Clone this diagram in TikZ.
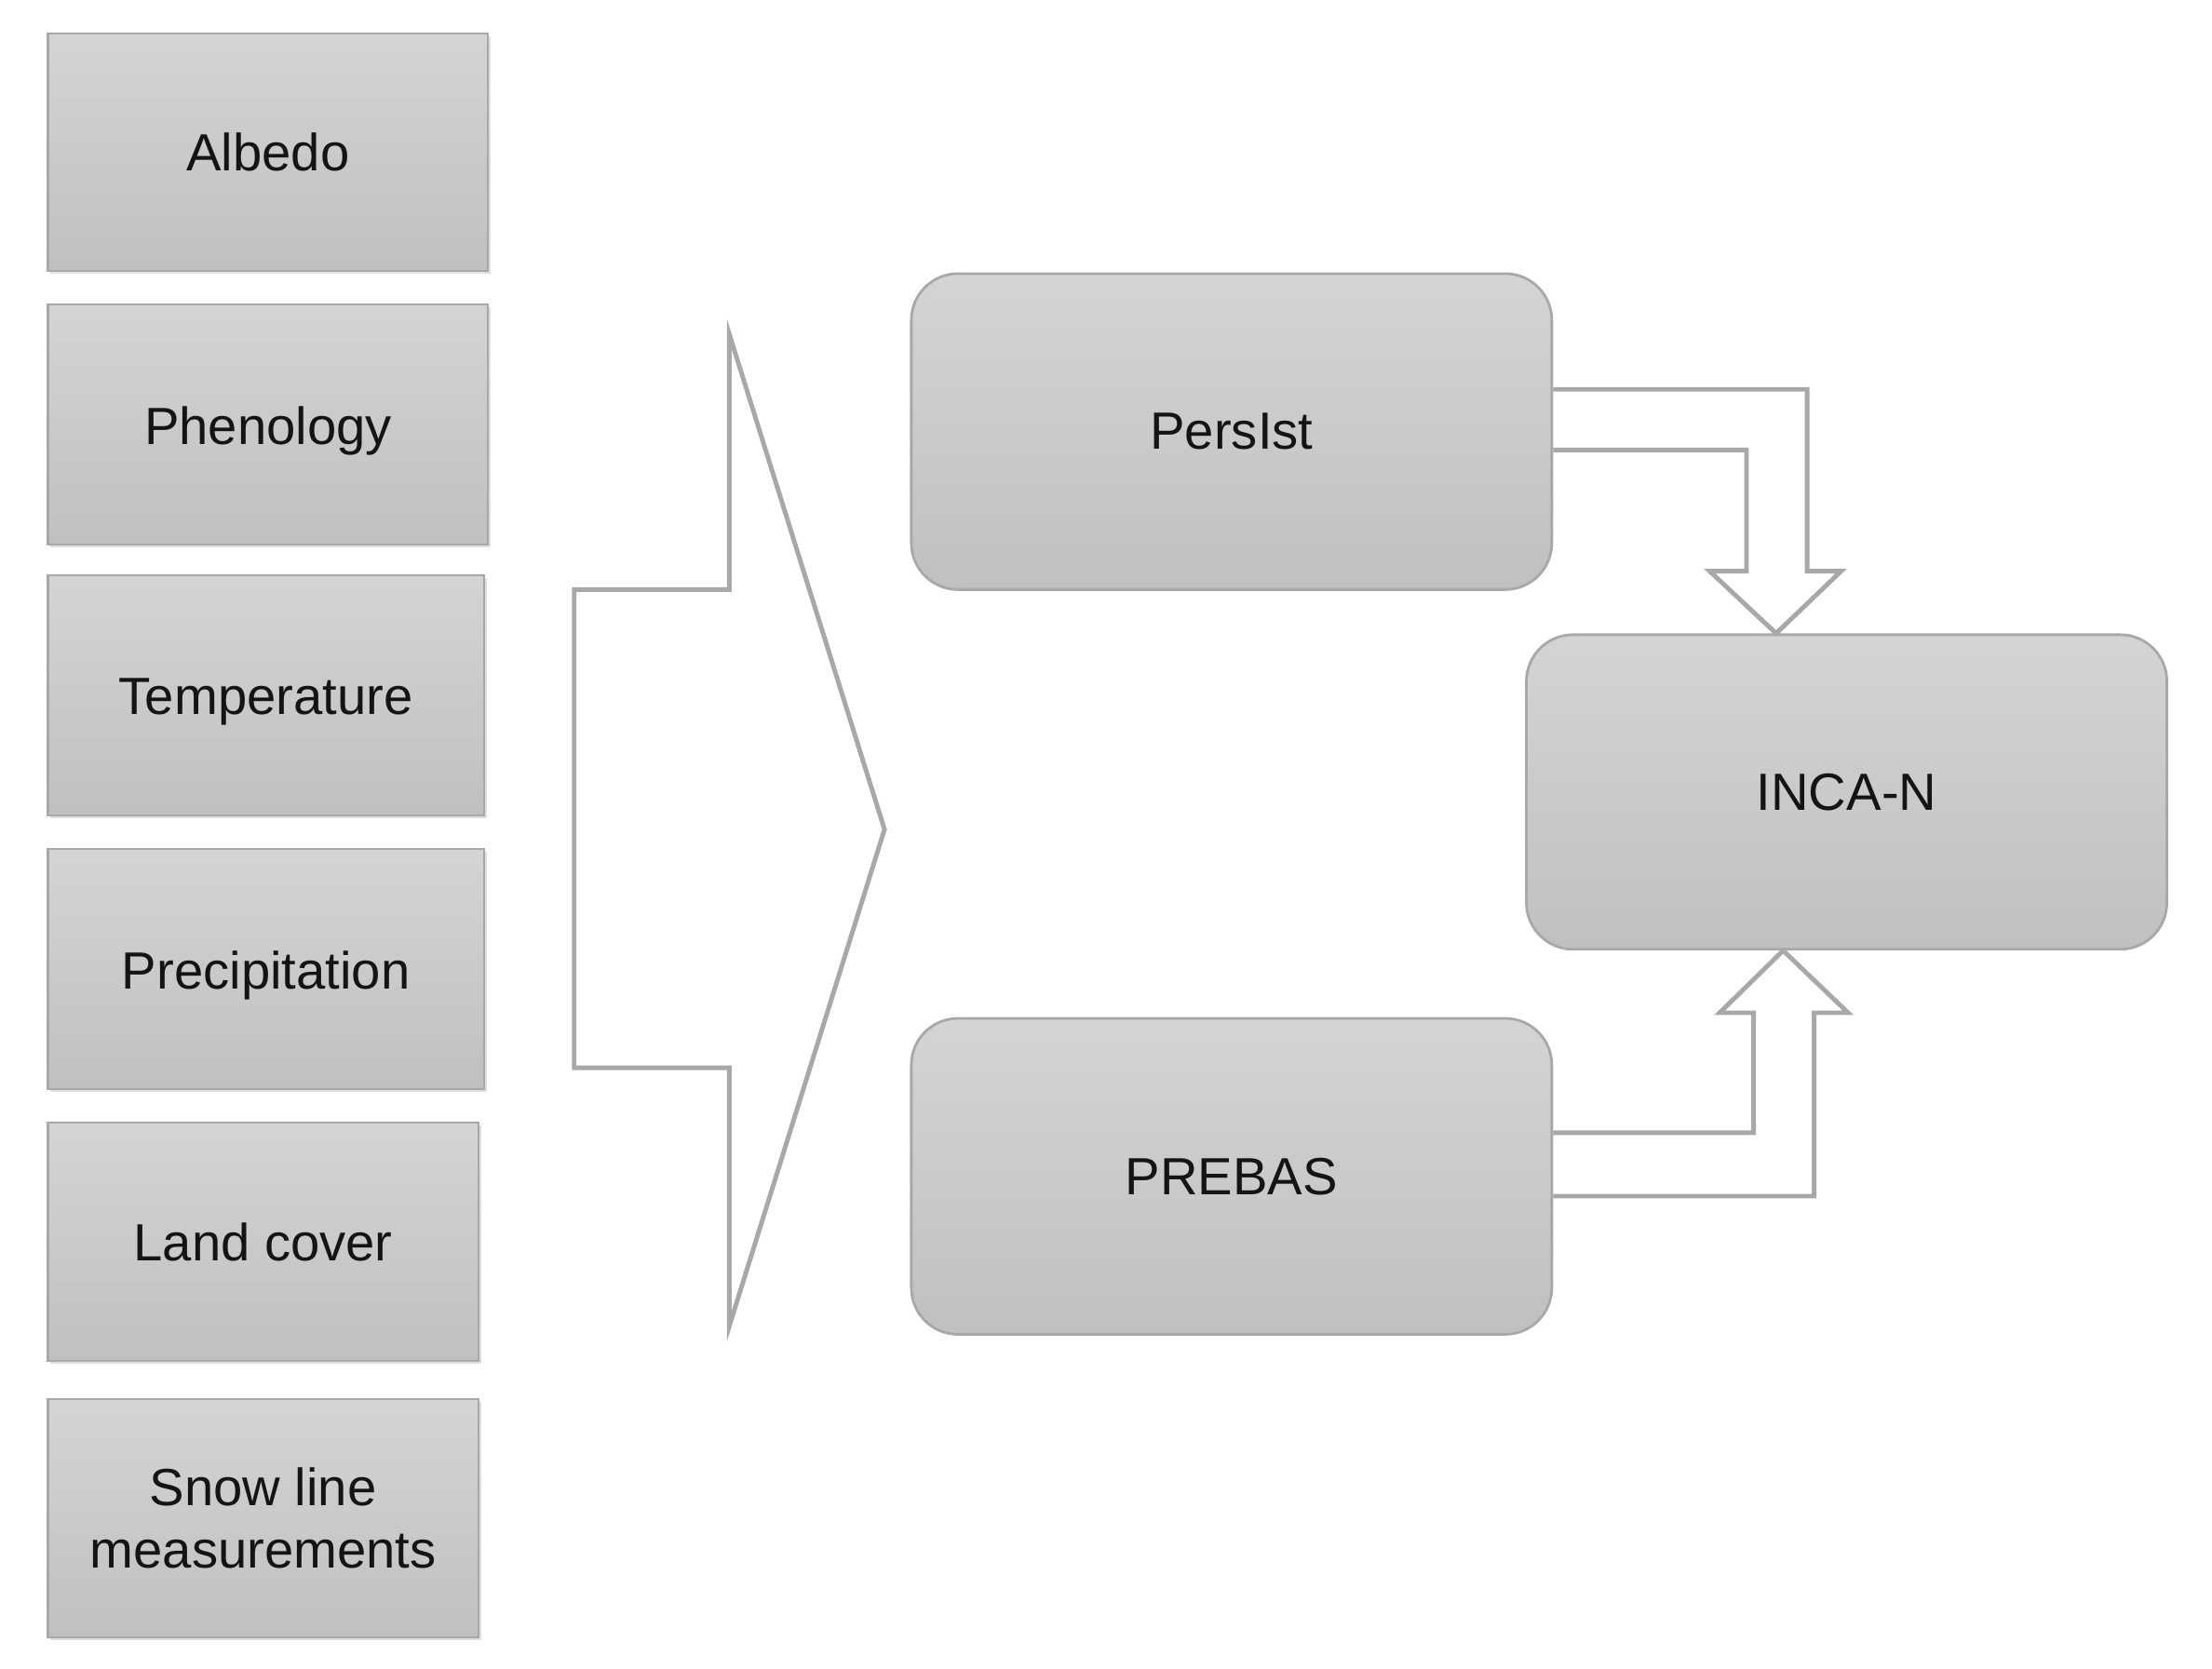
\documentclass[tikz,border=0pt]{standalone}
\usepackage{fontspec}
\setmainfont{Liberation Sans}
\usetikzlibrary{fit,shadows}
\definecolor{topg}{RGB}{212,212,212}
\definecolor{botg}{RGB}{192,192,192}
\definecolor{edgeg}{RGB}{168,168,168}
\definecolor{txt}{RGB}{20,20,20}
\tikzset{
  inbox/.style={draw=edgeg, line width=0.6pt, top color=topg, bottom color=botg, inner sep=0pt,
    drop shadow={shadow xshift=0.8pt, shadow yshift=-0.8pt, opacity=0.25}},
  modbox/.style={draw=edgeg, line width=0.8pt, top color=topg, bottom color=botg, inner sep=0pt, rounded corners=0.5cm},
  lbl/.style={text=txt, font=\fontsize{16pt}{19pt}\selectfont, align=center},
  blockarrow/.style={draw=edgeg, line width=1.4pt, line join=miter},
}
\begin{document}
\begin{tikzpicture}[x=0.015153cm, y=-0.015153cm]
\useasboundingbox (0,0) rectangle (1568,1183);
% input boxes
\node[inbox, fit={(34,24) (346,192)}, label={[lbl]center:Albedo}] (alb) {};
\node[inbox, fit={(34,216) (346,386)}, label={[lbl, yshift=-2pt]center:Phenology}] (phe) {};
\node[inbox, fit={(34,408) (343,578)}, label={[lbl, yshift=-2pt]center:Temperature}] (tem) {};
\node[inbox, fit={(34,602) (343,772)}, label={[lbl, yshift=-2pt]center:Precipitation}] (pre) {};
\node[inbox, fit={(34,796) (339,965)}, label={[lbl]center:Land cover}] (lan) {};
\node[inbox, fit={(34,992) (339,1161)}, label={[lbl]center:Snow line\\measurements}] (sno) {};
% big arrow
\draw[blockarrow, fill=white] (407,418) -- (517,418) -- (517,237) -- (627,588) -- (517,940) -- (517,757) -- (407,757) -- cycle;
% models
\node[modbox, fit={(646,194) (1100,418)}, label={[lbl]center:PersIst}] (pers) {};
\node[modbox, fit={(646,722) (1100,946)}, label={[lbl]center:PREBAS}] (preb) {};
\node[modbox, fit={(1082,450) (1536,673)}, label={[lbl]center:INCA-N}] (inca) {};
% bent block arrows
\coordinate (t1) at (pers.east |- 0,276);
\coordinate (t2) at (pers.east |- 0,319);
\coordinate (ttip) at (inca.north -| 1259,0);
\draw[blockarrow] (t1) -- (1281,276) -- (1281,405) -- (1305,405) -- (ttip) -- (1212,405) -- (1238,405) -- (1238,319) -- (t2);
\coordinate (b1) at (preb.east |- 0,848);
\coordinate (b2) at (preb.east |- 0,803);
\coordinate (btip) at (inca.south -| 1264,0);
\draw[blockarrow] (b1) -- (1286,848) -- (1286,718) -- (1310,718) -- (btip) -- (1219,718) -- (1243,718) -- (1243,803) -- (b2);
\end{tikzpicture}
\end{document}
